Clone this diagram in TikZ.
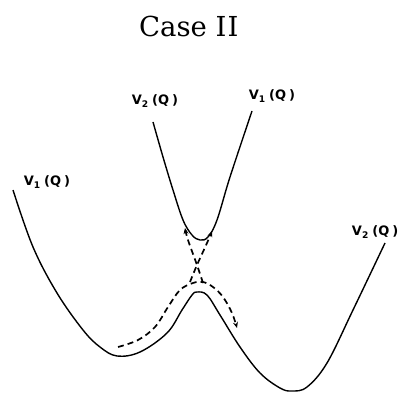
\documentclass[tikz,border=0pt]{standalone}
\usepackage{fontspec}
\newfontfamily\titlefont{DejaVu Serif}
\newfontfamily\lblfont{DejaVu Sans}
\usetikzlibrary{arrows.meta}
\newcommand{\vlab}[1]{V\textsubscript{#1}\hspace{3.5pt}(Q\hspace{3pt})}
\begin{document}
\begin{tikzpicture}[x=1pt,y=-1pt,
  curve/.style={line width=1.4pt,line join=round},
  dpath/.style={line width=1.7pt,dash pattern=on 6pt off 4pt},
  lbl/.style={font=\lblfont\bfseries\fontsize{13}{14}\selectfont,inner sep=0pt},
  ttl/.style={font=\titlefont\fontsize{27.5}{30}\selectfont,inner sep=0pt},
  tip/.style={-{Stealth[length=6pt,width=5pt]}}]
\useasboundingbox (0,0) rectangle (399,393);
\fill[white] (0,0) rectangle (399,393);
% title
\node[ttl,anchor=base west] (title) at (139,37) {Case I\hspace{1pt}I};
% lower adiabatic curve
\draw[curve] plot[smooth,tension=0.6] coordinates {
 (13,190) (33,247) (57,293) (83,330) (100,347) (117,356) (140,352)
 (167,333) (182,310) (192,295) (197,292) (207,295) (220,315) (240,347)
 (260,373) (280,388) (292,391) (307,387) (327,363) (353,310) (385,243)};
% upper adiabatic curve
\draw[curve] plot[smooth,tension=0.6] coordinates {
 (153,122) (163,157) (173,190) (183,220) (192,235) (200,240) (208,237)
 (217,220) (230,177) (252,111)};
% dashed adiabatic path around lower barrier
\draw[dpath,tip] plot[smooth,tension=0.6] coordinates {
 (118,347) (138,340) (155,327) (168,307) (180,290) (193,283) (203,282)
 (213,287) (223,297) (232,313) (237,328)};
% dashed diabatic crossing
\draw[dpath,tip] plot[smooth,tension=0.6] coordinates {(203,283) (197,265) (188,240) (185,228)};
\draw[dpath,tip] plot[smooth,tension=0.6] coordinates {(190,282) (197,265) (207,243) (212,231)};
% labels
\node[lbl] (l1) at (47,182) {\vlab{1}};
\node[lbl] (l2) at (155,101) {\vlab{2}};
\node[lbl] (l3) at (272,96) {\vlab{1}};
\node[lbl,anchor=east] (l4) at (398.5,232) {\vlab{2}};
\end{tikzpicture}
\end{document}
